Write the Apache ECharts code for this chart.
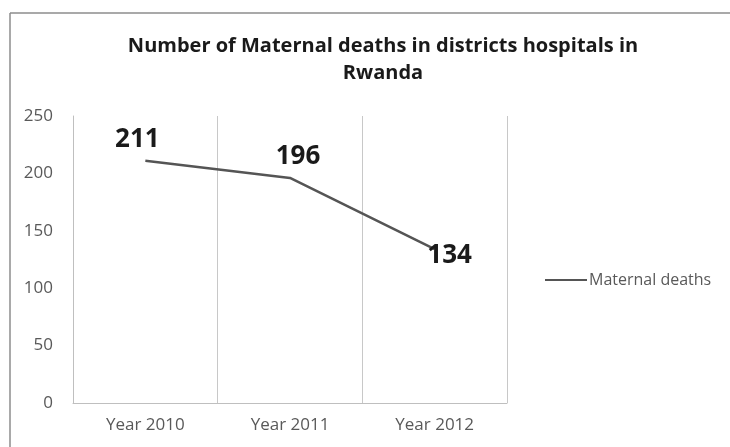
<!DOCTYPE html>
<html><head><meta charset="utf-8">
<script src="https://cdn.jsdelivr.net/npm/echarts@6/dist/echarts.min.js"></script>
<style>html,body{margin:0;padding:0;background:#fff}#c{width:730px;height:447px}</style>
</head><body><div id="c"></div>
<script>
const categories = ['Year 2010', 'Year 2011', 'Year 2012'];
const maternalDeaths = [211, 196, 134];
const yTicks = [0, 50, 100, 150, 200, 250];
const seriesName = 'Maternal deaths';
const titleText = 'Number of Maternal deaths in districts hospitals in\nRwanda';

const labelOffsets = [[-8, -21], [8, -21], [15, 6]];
const chart = echarts.init(document.getElementById('c'));
chart.setOption({
  backgroundColor: '#fff',
  animation: false,
  title: {
    text: titleText, left: 378, top: 28, textAlign: 'center',
    textStyle: { fontFamily: 'Open Sans', fontWeight: 'bold', fontSize: 20, color: '#1a1a1a', lineHeight: 27 }
  },
  graphic: [
    { type: 'line', shape: { x1: 10, y1: 13, x2: 730, y2: 13 }, style: { stroke: '#8c8c8c', lineWidth: 1.5 } },
    { type: 'line', shape: { x1: 10, y1: 13, x2: 10, y2: 447 }, style: { stroke: '#8c8c8c', lineWidth: 1.5 } }
  ],
  legend: {
    data: [seriesName], left: 540, top: 267, icon: 'rect', itemWidth: 42, itemHeight: 2, itemGap: 2,
    textStyle: { fontFamily: 'Open Sans', fontSize: 16, color: '#595959', padding: [0, 0, 0, -3] }
  },
  grid: { left: 73, right: 223, top: 116, bottom: 44 },
  xAxis: {
    type: 'category', data: categories, boundaryGap: true,
    axisLine: { lineStyle: { color: '#bfbfbf' } },
    axisTick: { show: false },
    axisLabel: { color: '#595959', fontFamily: 'Open Sans', fontSize: 17, margin: 14 },
    splitLine: { show: true, lineStyle: { color: '#c8c8c8', width: 1 } }
  },
  yAxis: {
    type: 'value', min: yTicks[0], max: yTicks[yTicks.length - 1], interval: 50,
    axisLine: { show: true, lineStyle: { color: '#bfbfbf' } },
    axisTick: { show: false },
    splitLine: { show: false },
    axisLabel: { color: '#595959', fontFamily: 'Open Sans', fontSize: 17, margin: 20 }
  },
  series: [{
    name: seriesName, type: 'line', showSymbol: true, symbol: 'circle', symbolSize: 0,
    lineStyle: { color: '#555555', width: 2.5 }, itemStyle: { color: '#555555' },
    data: maternalDeaths.map((v, i) => ({
      value: v,
      label: { show: true, position: 'inside', align: 'center', verticalAlign: 'middle', offset: labelOffsets[i], fontFamily: 'Open Sans', fontWeight: 'bold', fontSize: 26, color: '#1a1a1a' }
    }))
  }]
});
</script></body></html>
